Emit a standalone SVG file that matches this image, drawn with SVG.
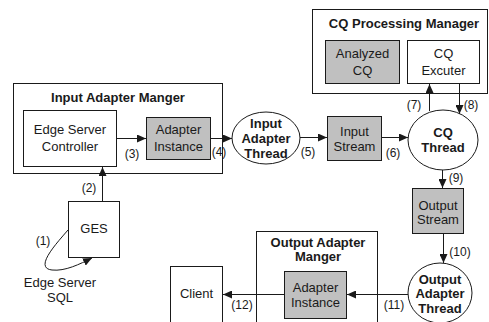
<svg xmlns="http://www.w3.org/2000/svg" width="489" height="322" viewBox="0 0 489 322">
  <style>
    .box { fill: #ffffff; stroke: #1a1a1a; stroke-width: 1; }
    .grey { fill: #c0c0c0; stroke: #1a1a1a; stroke-width: 1; }
    .ell { fill: #ffffff; stroke: #1a1a1a; stroke-width: 1; }
    .txt { font-family: "Liberation Sans", Arial, sans-serif; font-size: 13px; fill: #1a1a1a; text-anchor: middle; }
    .bold { font-weight: bold; }
    .lbl { font-family: "Liberation Sans", Arial, sans-serif; font-size: 12px; fill: #1a1a1a; text-anchor: middle; }
    .edge { fill: none; stroke: #1a1a1a; stroke-width: 1; marker-end: url(#arrow); }
  </style>
  <defs>
    <marker id="arrow" markerUnits="userSpaceOnUse" markerWidth="10" markerHeight="8" refX="9" refY="4" orient="auto">
      <path d="M0,0 L9,4 L0,8 Z" fill="#1a1a1a"/>
    </marker>
  </defs>
  <rect width="489" height="322" fill="#ffffff"/>

  <!-- Input Adapter Manger container -->
  <g id="input-adapter-manager">
    <rect class="box" x="13.5" y="83.5" width="209" height="90"/>
    <text class="txt bold" x="118" y="102">Input Adapter Manger</text>
  </g>
  <g id="edge-server-controller">
    <rect class="box" x="23.5" y="110.5" width="93" height="56"/>
    <text class="txt" x="70" y="134">Edge Server</text>
    <text class="txt" x="70" y="151">Controller</text>
  </g>
  <g id="input-adapter-instance">
    <rect class="grey" x="146.5" y="117.5" width="64" height="42"/>
    <text class="txt" x="178.5" y="134">Adapter</text>
    <text class="txt" x="178.5" y="151">Instance</text>
  </g>

  <!-- CQ Processing Manager container -->
  <g id="cq-processing-manager">
    <rect class="box" x="312.5" y="9.5" width="175" height="84"/>
    <text class="txt bold" x="404" y="27.5">CQ Processing Manager</text>
  </g>
  <g id="analyzed-cq">
    <rect class="grey" x="325.5" y="40.5" width="74" height="43"/>
    <text class="txt" x="362.5" y="57.5">Analyzed</text>
    <text class="txt" x="362.5" y="74.5">CQ</text>
  </g>
  <g id="cq-excuter">
    <rect class="box" x="407.5" y="40.5" width="72" height="43"/>
    <text class="txt" x="443.5" y="57.5">CQ</text>
    <text class="txt" x="443.5" y="74.5">Excuter</text>
  </g>

  <!-- Stream pipeline -->
  <g id="input-adapter-thread">
    <ellipse class="ell" cx="266" cy="138" rx="34" ry="26"/>
    <text class="txt bold" x="266" y="127.5">Input</text>
    <text class="txt bold" x="266" y="142.5">Adapter</text>
    <text class="txt bold" x="266" y="158">Thread</text>
  </g>
  <g id="input-stream">
    <rect class="grey" x="327.5" y="116.5" width="54" height="44"/>
    <text class="txt" x="354.5" y="135.5">Input</text>
    <text class="txt" x="354.5" y="150.5">Stream</text>
  </g>
  <g id="cq-thread">
    <ellipse class="ell" cx="443" cy="140" rx="35" ry="30"/>
    <text class="txt bold" x="443" y="136.5">CQ</text>
    <text class="txt bold" x="443" y="152">Thread</text>
  </g>
  <g id="output-stream">
    <rect class="grey" x="412.5" y="188.5" width="51" height="45"/>
    <text class="txt" x="438" y="209.5">Output</text>
    <text class="txt" x="438" y="224">Stream</text>
  </g>
  <g id="output-adapter-thread">
    <ellipse class="ell" cx="440" cy="293" rx="32" ry="30"/>
    <text class="txt bold" x="440" y="283.5">Output</text>
    <text class="txt bold" x="440" y="298">Adapter</text>
    <text class="txt bold" x="440" y="312.5">Thread</text>
  </g>

  <!-- Output Adapter Manger container -->
  <g id="output-adapter-manager">
    <rect class="box" x="256.5" y="231.5" width="121" height="100"/>
    <text class="txt bold" x="318" y="246.5">Output Adapter</text>
    <text class="txt bold" x="318" y="261">Manger</text>
  </g>
  <g id="output-adapter-instance">
    <rect class="grey" x="284.5" y="271.5" width="62" height="47"/>
    <text class="txt" x="315.5" y="291.5">Adapter</text>
    <text class="txt" x="315.5" y="306.5">Instance</text>
  </g>
  <g id="client">
    <rect class="box" x="170.5" y="266.5" width="52" height="60"/>
    <text class="txt" x="196.5" y="297.5">Client</text>
  </g>

  <g id="ges">
    <rect class="box" x="68.5" y="201.5" width="51" height="56"/>
    <text class="txt" x="94" y="232.5">GES</text>
  </g>
  <g id="edge-server-sql">
    <text class="txt" x="60" y="286.5">Edge Server</text>
    <text class="txt" x="60" y="301.5">SQL</text>
  </g>

  <!-- Connectors -->
  <g id="connectors">
    <path class="edge" d="M68,230 C55,245 34,268 52,270 C65,271.5 80,264 92,258"/>
    <path class="edge" d="M102.5,201 L102.5,167"/>
    <path class="edge" d="M117,138.5 L146,138.5"/>
    <path class="edge" d="M211,138.5 L232,138.5"/>
    <path class="edge" d="M300,137.5 L327,137.5"/>
    <path class="edge" d="M382,137.5 L408,137.5"/>
    <path class="edge" d="M429.5,111 L429.5,84"/>
    <path class="edge" d="M459.5,84 L459.5,114"/>
    <path class="edge" d="M442.5,170 L442.5,188"/>
    <path class="edge" d="M443.5,234 L443.5,263"/>
    <path class="edge" d="M408,294.5 L347,294.5"/>
    <path class="edge" d="M284,294.5 L223,294.5"/>

    <text class="lbl" x="43" y="245">(1)</text>
    <text class="lbl" x="89" y="192">(2)</text>
    <text class="lbl" x="132" y="157.5">(3)</text>
    <text class="lbl" x="219" y="156">(4)</text>
    <text class="lbl" x="308" y="156">(5)</text>
    <text class="lbl" x="393" y="157">(6)</text>
    <text class="lbl" x="414" y="109">(7)</text>
    <text class="lbl" x="471" y="109">(8)</text>
    <text class="lbl" x="456" y="182">(9)</text>
    <text class="lbl" x="460" y="256">(10)</text>
    <text class="lbl" x="394" y="309">(11)</text>
    <text class="lbl" x="242" y="309">(12)</text>
  </g>
</svg>
